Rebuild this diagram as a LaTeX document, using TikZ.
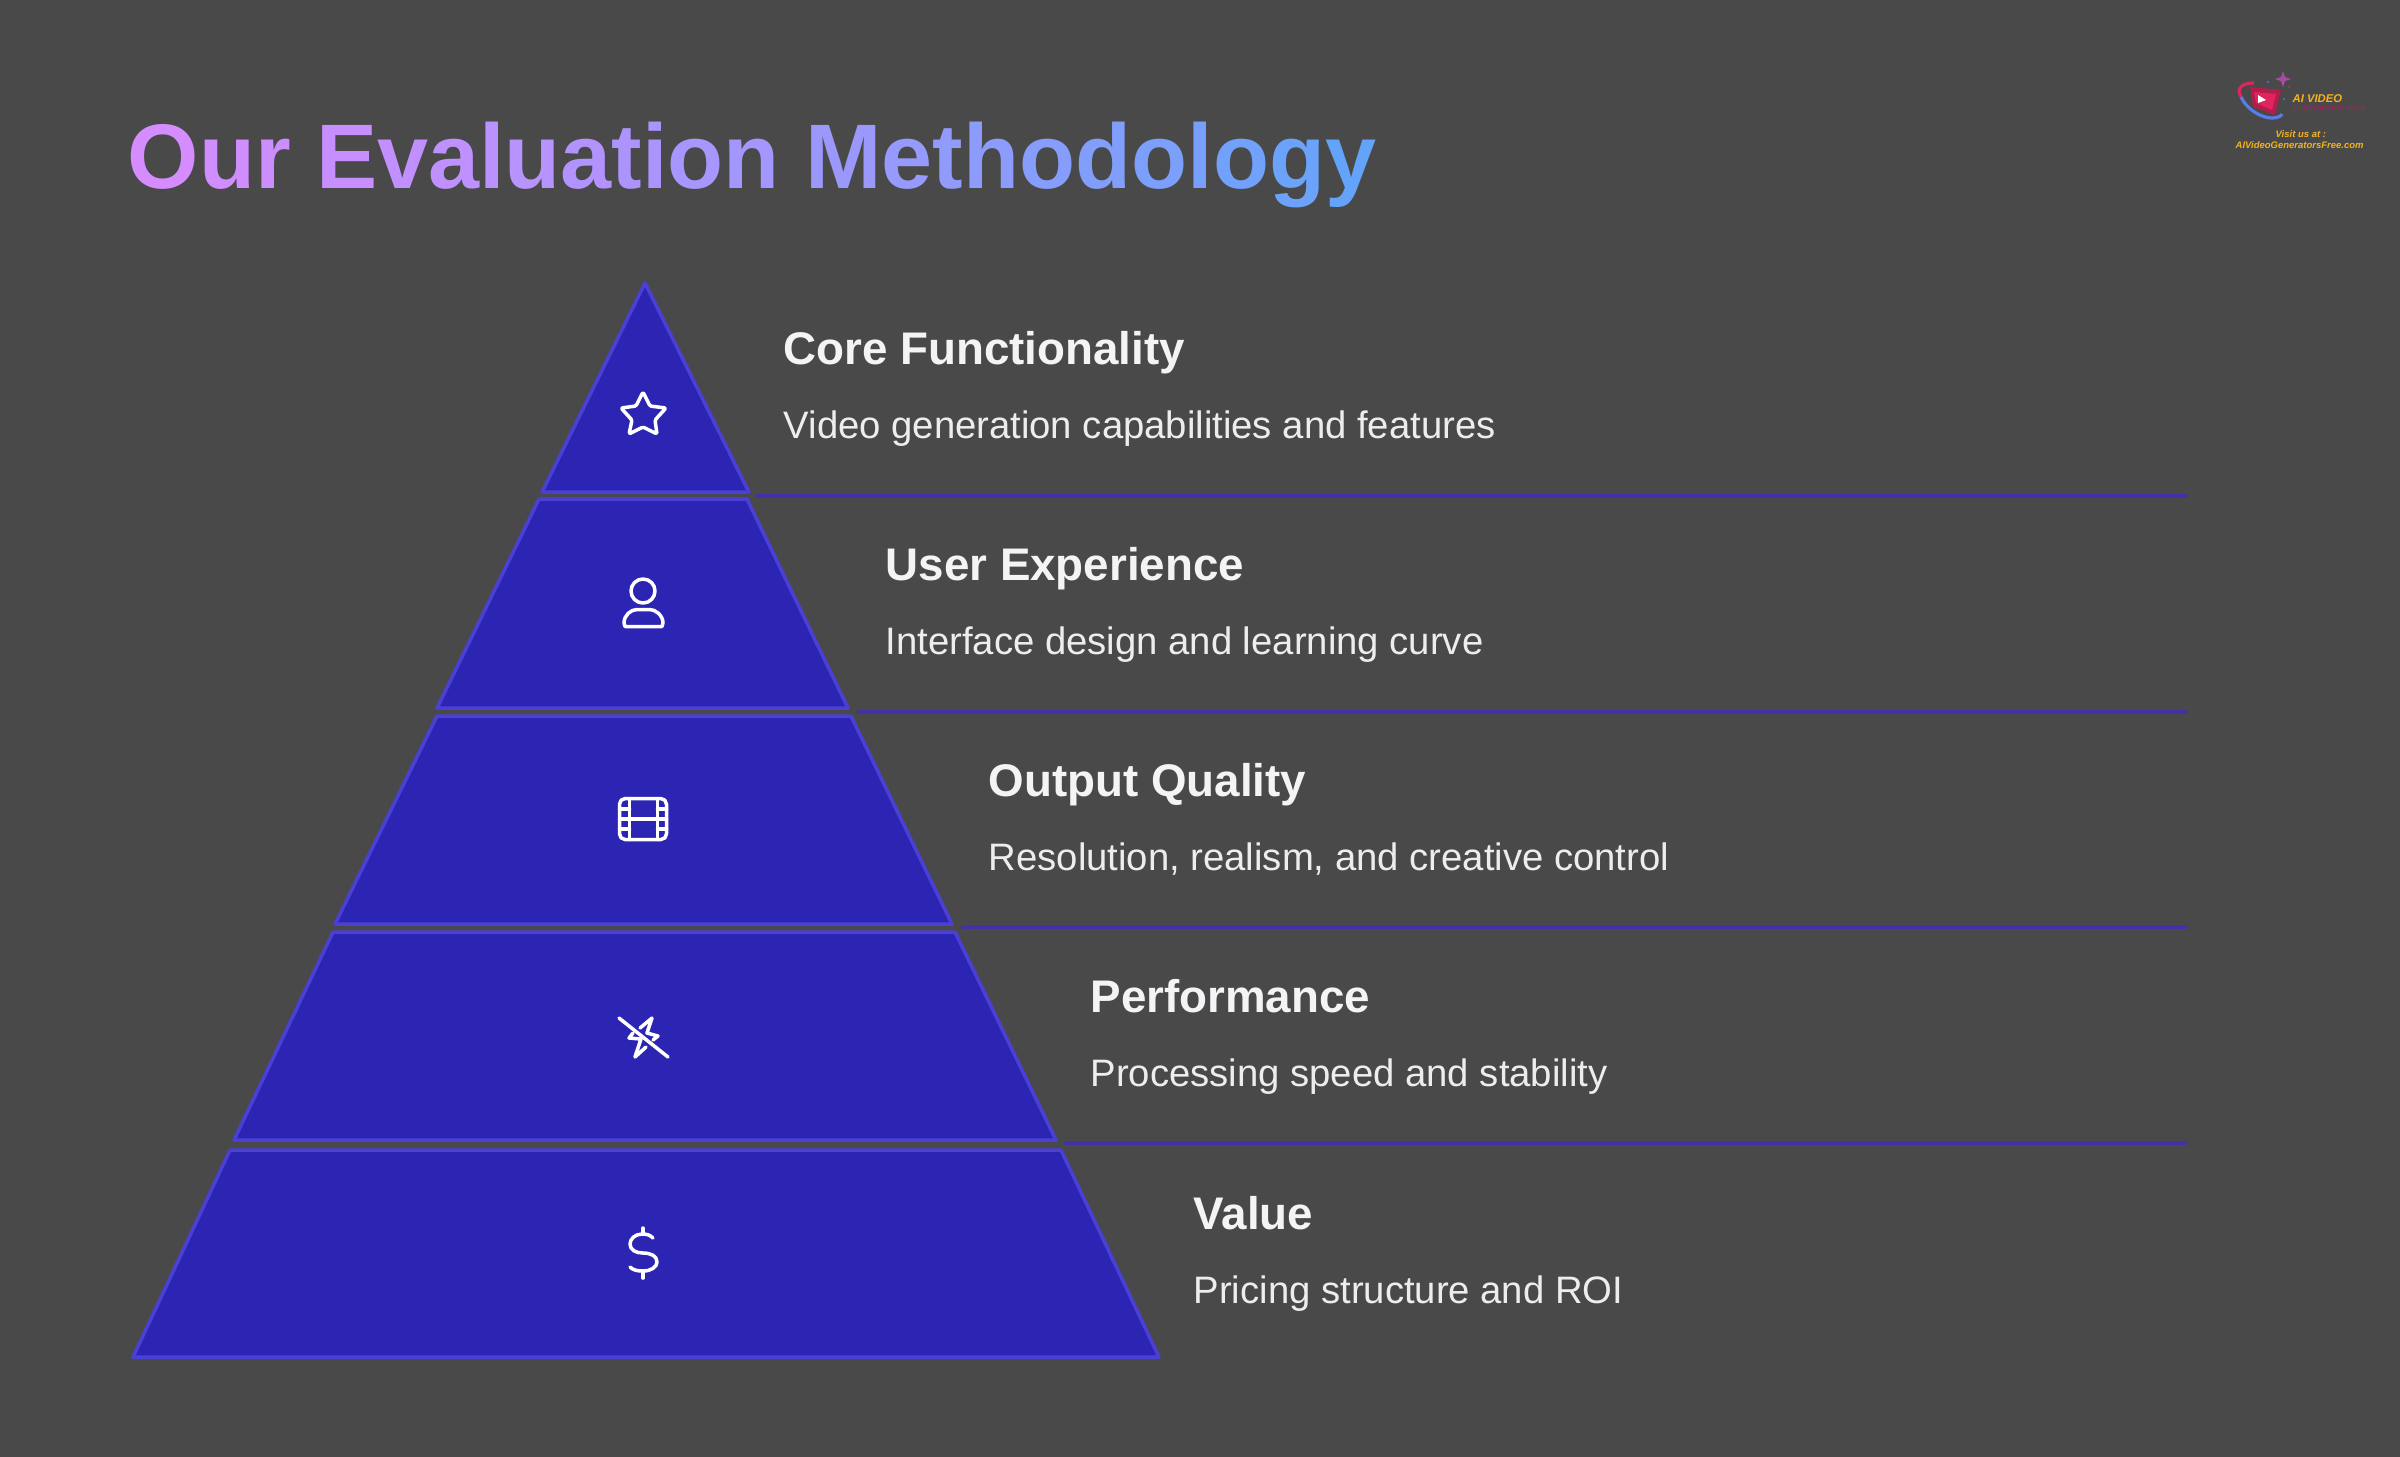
\documentclass[tikz,border=0pt]{standalone}
\usepackage{fontspec}
\setmainfont{Liberation Sans}
\definecolor{bgcol}{HTML}{4A4949}
\definecolor{tierfill}{HTML}{2C25B4}
\definecolor{tieredge}{HTML}{4A40D6}
\definecolor{sepcol}{HTML}{4332A6}
\definecolor{titleleft}{HTML}{D58CFF}
\definecolor{titleright}{HTML}{60A5FA}
\definecolor{headcol}{HTML}{F3F4F6}
\definecolor{subcol}{HTML}{EDEDEE}
\definecolor{logogold}{HTML}{F5B31B}
\definecolor{logored}{HTML}{A81E5C}
\definecolor{logopink}{HTML}{E0245E}
\definecolor{logoblue}{HTML}{5B7BE8}
\tikzset{
    tier/.style={fill=tierfill,draw=tieredge,line width=1pt,line join=round},
    sepline/.style={draw=sepcol,line width=1pt},
    icon/.style={draw=white,line width=1pt,line cap=round,line join=round},
    headtext/.style={anchor=base west,inner sep=0pt,text=headcol,font=\fontsize{13}{16}\selectfont\bfseries},
    subtext/.style={anchor=base west,inner sep=0pt,text=subcol,font=\fontsize{10.88}{13}\selectfont},
    logotext/.style={anchor=base west,inner sep=0pt,text=logogold,font=\fontsize{2.7}{3}\selectfont\bfseries\itshape}
}
\begin{document}
\begin{tikzpicture}[x=0.01cm,y=-0.01cm]
    \useasboundingbox (0,0) rectangle (2400,1456);
    \fill[bgcol] (-5,-5) rectangle (2405,1461);
    % title, letter by letter
    \node[anchor=base west,inner sep=0pt,font=\fontsize{26.08}{30}\selectfont\bfseries] (title) at (127,188) {%
        \foreach \c/\p in {O/100,u/96,r/92,~/90,E/88,v/84,a/80,l/77,u/74,a/70,t/66,i/64,o/61,n/57,~/54,M/50,e/45,t/41,h/38,o/33,d/28,o/23,l/19,o/15,g/9,y/3}
            {\textcolor{titleleft!\p!titleright}{\c}}%
    };
    % pyramid
    \draw[tier] (645,283) -- (749,492) -- (542,492) -- cycle;
    \draw[tier] (539,499) -- (747,499) -- (848,708) -- (437,708) -- cycle;
    \draw[tier] (437,716) -- (851,716) -- (952,924) -- (335,924) -- cycle;
    \draw[tier] (333,932) -- (955,932) -- (1056,1140) -- (234,1140) -- cycle;
    \draw[tier] (230,1150) -- (1061,1150) -- (1159,1357) -- (133,1357) -- cycle;
    \foreach \x/\y in {756/496,857/712,961/927,1064/1143}
        {
            \draw[sepline] (\x,\y) -- (2188,\y);
        }
    % labels
    \node[headtext] (core) at (783,364) {Core Functionality};
    \node[subtext] (coresub) at (783,438) {Video generation capabilities and features};
    \node[headtext] (user) at (885,580) {User Experience};
    \node[subtext] (usersub) at (885,654) {Interface design and learning curve};
    \node[headtext] (output) at (988,796) {Output Quality};
    \node[subtext] (outputsub) at (988,870) {Resolution, realism, and creative control};
    \node[headtext] (perf) at (1090,1012) {Performance};
    \node[subtext] (perfsub) at (1090,1086) {Processing speed and stability};
    \node[headtext] (value) at (1193,1229) {Value};
    \node[subtext] (valuesub) at (1193,1303) {Pricing structure and ROI};
    % icons
    \draw[icon,rounded corners=0.4pt] (643,392) -- (650,406) -- (666,408) -- (655,420) -- (657,434) -- (643,427) -- (629,434) -- (632,420) -- (621,408) -- (636,406) -- cycle;
    \draw[icon] (643,591) circle (12);
    \draw[icon] (625,626.5) -- (662,626.5) -- (663,623) .. controls (663,615) and (655,609.5) .. (650,609.5) -- (637,609.5) .. controls (631,609.5) and (624,615) .. (624,623) -- cycle;
    \draw[icon,rounded corners=1.6pt] (619.5,798.5) rectangle (666.5,839.5);
    \draw[icon] (629.5,798.5) -- (629.5,839.5);
    \draw[icon] (657.5,798.5) -- (657.5,839.5);
    \draw[icon] (619.5,819) -- (666.5,819);
    \foreach \y in {809,829}
        {
            \draw[icon] (619.5,\y) -- (629.5,\y);
            \draw[icon] (657.5,\y) -- (666.5,\y);
        }
    \draw[icon] (619,1018) -- (668,1057);
    \draw[icon] (640,1028) -- (652,1018) -- (647,1033) -- (658,1036) -- (653,1040);
    \draw[icon] (633,1033) -- (629,1038) -- (641,1039) -- (635,1057) -- (646,1047);
    \draw[icon] (643,1228) -- (643,1234);
    \draw[icon] (643,1271) -- (643,1278);
    \draw[icon] (653,1238) .. controls (650,1235) and (647,1234) .. (642,1234) .. controls (635,1234) and (630,1239) .. (630,1244) .. controls (630,1250) and (636,1253) .. (643,1253) .. controls (651,1253) and (657,1256) .. (657,1262) .. controls (657,1267) and (651,1271) .. (643,1271) .. controls (637,1271) and (633,1270) .. (630,1267);
    % logo
    \fill[logopink!80!black] (2250,87) -- (2281,90) -- (2275,115) -- (2253,107) -- cycle;
    \fill[logopink] (2254,92) -- (2276,94) -- (2272,110) -- (2256,103) -- cycle;
    \fill[white] (2258,95) -- (2266,100) -- (2258,103) -- cycle;
    \draw[logopink,line width=0.9pt] (2254,83) .. controls (2242,83) and (2236,88) .. (2241,97);
    \draw[logoblue,line width=0.9pt] (2241,97) .. controls (2247,110) and (2262,118) .. (2272,118) .. controls (2278,118) and (2281,116) .. (2282,114);
    \fill[violet!70!white] (2283,71) -- (2285,77) -- (2291,79) -- (2285,81) -- (2283,87) -- (2281,81) -- (2275,79) -- (2281,77) -- cycle;
    \fill[logoblue] (2268,82) circle (1);
    \fill[logoblue] (2284,99) circle (1);
    \fill[logopink] (2289,87) circle (1);
    \node[logotext,font=\fontsize{3.2}{4}\selectfont\bfseries\itshape] (logoa) at (2292,102) {AI VIDEO};
    \node[logotext,text=logored,font=\fontsize{2.1}{3}\selectfont\bfseries\itshape] (logob) at (2292,110) {GENERATORS FREE};
    \node[logotext] (logoc) at (2275,137) {Visit us at :};
    \node[logotext] (logod) at (2235,148) {AIVideoGeneratorsFree.com};
\end{tikzpicture}
\end{document}
